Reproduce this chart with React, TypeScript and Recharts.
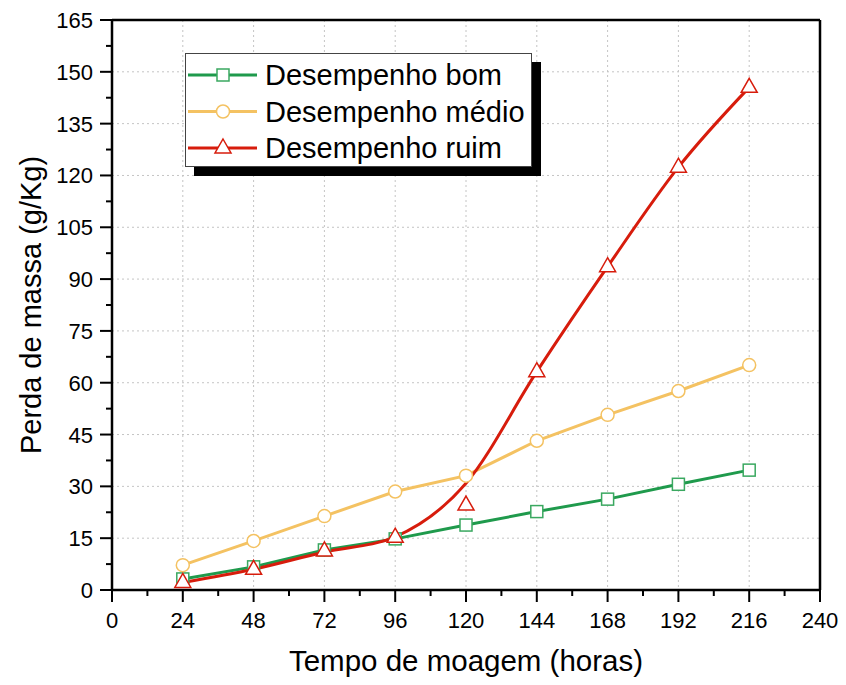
import {
  CartesianGrid,
  Line,
  LineChart,
  ReferenceLine,
  XAxis,
  YAxis,
} from "recharts";

// horas de moagem
const hours = [24, 48, 72, 96, 120, 144, 168, 192, 216];
const bom = [3.2, 6.7, 11.6, 14.8, 18.8, 22.7, 26.3, 30.6, 34.7];
const medio = [7.2, 14.2, 21.4, 28.5, 33.1, 43.2, 50.7, 57.6, 65.1];
const ruim = [2.2, 6.0, 11.3, 15.3, 24.6, 63.2, 93.6, 122.4, 145.5];
// the smoothed red curve (it misses the 120 h point)
const ruimCurve = [2.2, 6.0, 11.0, 15.4, 30.9, 63.2, 93.6, 122.4, 145.5];

const xMajor = [0, 24, 48, 72, 96, 120, 144, 168, 192, 216, 240];
const xAll = [0, 12, 24, 36, 48, 60, 72, 84, 96, 108, 120, 132, 144, 156, 168, 180, 192, 204, 216, 228, 240];
const yMajor = [0, 15, 30, 45, 60, 75, 90, 105, 120, 135, 150, 165];
const yAll = [0, 7.5, 15, 22.5, 30, 37.5, 45, 52.5, 60, 67.5, 75, 82.5, 90, 97.5, 105, 112.5, 120, 127.5, 135, 142.5, 150, 157.5, 165];

const X_MAX = 240;
const Y_MAX = 165;

const GREEN = "#1f9a4c";
const YELLOW = "#f4c262";
const RED = "#d71c0c";
const FONT = '"Liberation Sans", Arial, sans-serif';

const data = hours.map((h, i) => ({
  h,
  bom: bom[i],
  medio: medio[i],
  ruim: ruim[i],
  ruimCurve: ruimCurve[i],
}));

const Square = ({ cx, cy }: any) => (
  <rect x={cx - 6} y={cy - 6} width={12} height={12} fill="#fff" stroke="#3aa860" strokeWidth={1.5} />
);
const Circle = ({ cx, cy }: any) => (
  <circle cx={cx} cy={cy} r={6.5} fill="#fff" stroke={YELLOW} strokeWidth={1.5} />
);
const Triangle = ({ cx, cy }: any) => (
  <path d={`M${cx},${cy - 9} L${cx + 8},${cy + 5} L${cx - 8},${cy + 5} Z`} fill="#fff" stroke={RED} strokeWidth={1.5} />
);

const XTick = ({ x, y, payload }: any) => {
  const major = payload.value % 24 === 0;
  return (
    <g>
      <line x1={x} x2={x} y1={y} y2={y + (major ? 12 : 6)} stroke="#000" strokeWidth={2} />
      {major && (
        <text x={x} y={y + 38} textAnchor="middle" fontSize={22} fontFamily={FONT} fill="#000">
          {payload.value}
        </text>
      )}
    </g>
  );
};

const YTick = ({ x, y, payload }: any) => {
  const major = payload.value % 15 === 0;
  return (
    <g>
      <line x1={x} x2={x - (major ? 12 : 6)} y1={y} y2={y} stroke="#000" strokeWidth={2} />
      {major && (
        <text x={x - 19} y={y + 8} textAnchor="end" fontSize={22} fontFamily={FONT} fill="#000">
          {payload.value}
        </text>
      )}
    </g>
  );
};

const XTitle = ({ viewBox }: any) => (
  <text x={viewBox.x + viewBox.width / 2} y={viewBox.y + 81} textAnchor="middle" fontSize={29.5} fontFamily={FONT} fill="#000">
    Tempo de moagem (horas)
  </text>
);

const YTitle = ({ viewBox }: any) => {
  const cx = viewBox.x + 31;
  const cy = viewBox.y + viewBox.height / 2;
  return (
    <text x={cx} y={cy} transform={`rotate(-90, ${cx}, ${cy})`} textAnchor="middle" dominantBaseline="central" fontSize={29} fontFamily={FONT} fill="#000">
      Perda de massa (g/Kg)
    </text>
  );
};

// grid only on the major ticks
const gridX = ({ offset }: any) => xMajor.map((v) => offset.left + (v / X_MAX) * offset.width);
const gridY = ({ offset }: any) => yMajor.map((v) => offset.top + offset.height - (v / Y_MAX) * offset.height);

const legendRows = [
  { label: "Desempenho bom", color: GREEN, Marker: Square },
  { label: "Desempenho médio", color: YELLOW, Marker: Circle },
  { label: "Desempenho ruim", color: RED, Marker: Triangle },
];

const ChartLegend = () => (
  <div
    style={{
      position: "absolute",
      left: 185,
      top: 53,
      width: 345,
      height: 112,
      background: "#fff",
      border: "1px solid #444",
      boxShadow: "9px 9px 0 #000",
    }}
  >
    <svg width={345} height={112}>
      {legendRows.map(({ label, color, Marker }, i) => {
        const y = 21 + i * 36.5;
        return (
          <g key={label}>
            <line x1={2} x2={71} y1={y} y2={y} stroke={color} strokeWidth={3} />
            <Marker cx={37} cy={y} />
            <text x={79} y={y + 10} fontSize={29} fontFamily={FONT} fill="#000">
              {label}
            </text>
          </g>
        );
      })}
    </svg>
  </div>
);

export default function App() {
  return (
    <div style={{ position: "relative", width: 846, height: 685, background: "#fff" }}>
      <style>{`body{margin:0}`}</style>
      <LineChart width={846} height={685} data={data} margin={{ top: 20, right: 26, bottom: 0, left: 0 }}>
        <CartesianGrid
          stroke="#c4c4c4"
          strokeDasharray="2 3"
          verticalCoordinatesGenerator={gridX}
          horizontalCoordinatesGenerator={gridY}
        />
        <XAxis
          dataKey="h"
          type="number"
          domain={[0, X_MAX]}
          ticks={xAll}
          interval={0}
          height={95}
          tickSize={0}
          tickMargin={0}
          tickLine={false}
          tick={<XTick />}
          axisLine={{ stroke: "#000", strokeWidth: 2.5 }}
          label={{ content: <XTitle /> }}
        />
        <YAxis
          type="number"
          domain={[0, Y_MAX]}
          ticks={yAll}
          interval={0}
          width={112}
          tickSize={0}
          tickMargin={0}
          tickLine={false}
          tick={<YTick />}
          axisLine={{ stroke: "#000", strokeWidth: 2.5 }}
          label={{ content: <YTitle /> }}
        />
        <ReferenceLine y={Y_MAX} stroke="#000" strokeWidth={2.5} ifOverflow="visible" />
        <ReferenceLine x={X_MAX} stroke="#000" strokeWidth={2.5} ifOverflow="visible" />
        <Line dataKey="bom" type="linear" stroke={GREEN} strokeWidth={3} dot={<Square />} isAnimationActive={false} />
        <Line dataKey="medio" type="linear" stroke={YELLOW} strokeWidth={3} dot={<Circle />} isAnimationActive={false} />
        <Line dataKey="ruimCurve" type="monotone" stroke={RED} strokeWidth={3} dot={false} isAnimationActive={false} />
        <Line dataKey="ruim" type="linear" stroke="none" dot={<Triangle />} isAnimationActive={false} />
      </LineChart>
      <ChartLegend />
    </div>
  );
}
